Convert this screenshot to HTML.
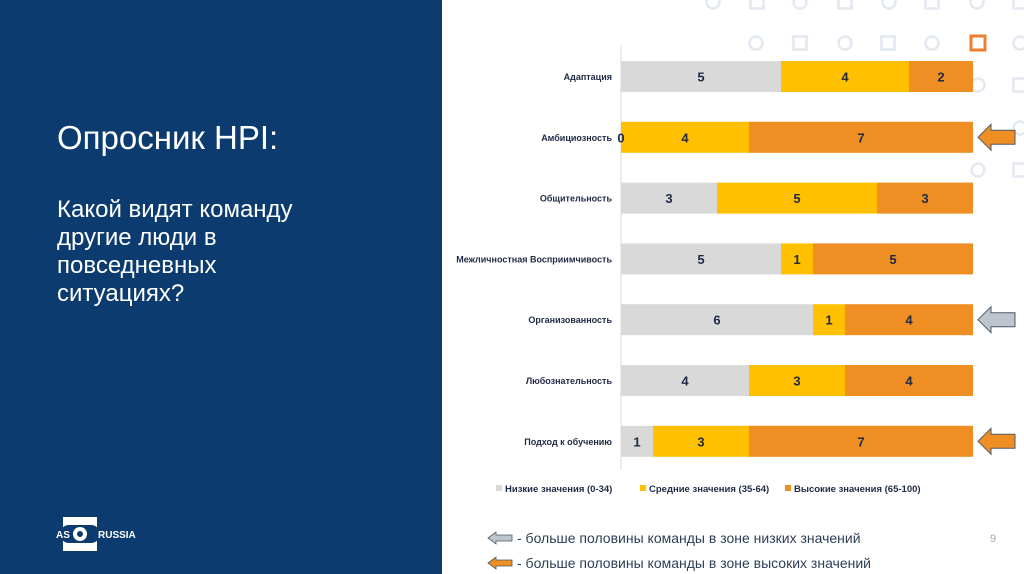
<!DOCTYPE html>
<html><head><meta charset="utf-8"><style>
html,body{margin:0;padding:0}
body{width:1024px;height:574px;position:relative;overflow:hidden;background:#fff;font-family:"Liberation Sans","DejaVu Sans",sans-serif}
#left{position:absolute;left:0;top:0;width:442px;height:574px;background:#0c3c6f}
h1{position:absolute;left:57px;top:118px;margin:0;color:#fff;font-size:33px;font-weight:normal;line-height:40px}
#sub{position:absolute;left:57px;top:196px;color:#fff;font-size:24px;line-height:28px;width:270px}
</style></head><body>
<div id="left">
<h1>Опросник HPI:</h1>
<div id="sub">Какой видят команду другие люди в повседневных ситуациях?</div>
<svg style="position:absolute;left:56px;top:516px" width="90" height="36">
<rect x="7" y="1" width="34" height="34" fill="#fff"/>
<rect x="4" y="9" width="40" height="18" rx="9" fill="#0c3c6f"/>
<circle cx="24" cy="18" r="7" fill="#fff"/><circle cx="24" cy="18" r="3" fill="#0c3c6f"/>
<text x="0" y="22" font-size="10" font-weight="bold" fill="#fff" font-family="Liberation Sans">AS</text>
<text x="42" y="22" font-size="10" font-weight="bold" fill="#fff" font-family="Liberation Sans">RUSSIA</text>
</svg>
</div>
<svg id="chart" width="1024" height="574" style="position:absolute;left:0;top:0"></svg>
<script>
const categories=["Адаптация","Амбициозность","Общительность","Межличностная Восприимчивость","Организованность","Любознательность","Подход к обучению"];
const low=[5,0,3,5,6,4,1];
const mid=[4,4,5,1,1,3,3];
const high=[2,7,3,5,4,4,7];
const arrows=[null,"high",null,null,"low",null,"high"];
const legendLabels=["Низкие значения (0-34)","Средние значения (35-64)","Высокие значения (65-100)"];
const colors=["#d9d9d9","#ffc000","#ef8e23"];
const NS="http://www.w3.org/2000/svg";
const svg=document.getElementById('chart');
const x0=621,unit=32,barH=31,y0=61,step=60.8;
const xs=v=>x0+v*unit;
const ys=i=>y0+i*step;
function mk(t,a,p){const e=document.createElementNS(NS,t);for(const k in a)e.setAttribute(k,a[k]);(p||svg).appendChild(e);return e;}
const deco=[[713,2,'c'],[757,2,'s'],[800,2,'c'],[845,2,'s'],[889,2,'c'],[932,2,'s'],[977,2,'c'],[1020,2,'s'],
[756,43,'c'],[800,43,'s'],[845,43,'c'],[888,43,'s'],[932,43,'c'],[1020,43,'c'],[978,85,'c'],[1020,85,'s'],[1020,128,'c'],[978,170,'c'],[1020,170,'s']];
deco.forEach(d=>{let e;
if(d[2]=='c')e=mk('circle',{cx:d[0],cy:d[1],r:6.5,fill:'none',stroke:'#e3e9f1','stroke-width':2.5});
else e=mk('rect',{x:d[0]-6.5,y:d[1]-6.5,width:13,height:13,fill:'none',stroke:'#e3e9f1','stroke-width':2.5});
});
const os=mk('rect',{x:971,y:36,width:14,height:14,fill:'none',stroke:'#ed7d31','stroke-width':3});

const ax=mk('line',{x1:x0,y1:45,x2:x0,y2:470,stroke:'#d9d9d9','stroke-width':1});

const labels=[];
categories.forEach((c,i)=>{
 const y=ys(i);
 const lab=mk('text',{x:612,y:y+barH/2+3.5,'text-anchor':'end','font-size':9,'font-weight':'bold',fill:'#1f2a44'});
 lab.textContent=c;
 let acc=0;
 [low[i],mid[i],high[i]].forEach((v,k)=>{
  const r=mk('rect',{x:xs(acc),y:y,width:v*unit,height:barH,fill:colors[k]});
  
  labels.push([xs(acc+v/2),y+barH/2+5,v]);
  acc+=v;});
 if(arrows[i]){const cy=y+barH/2;const fill=arrows[i]=='high'?'#ef8e23':'#bfc5cc';
  const p=mk('path',{d:`M978 ${cy} L991 ${cy-13} L991 ${cy-7} L1015 ${cy-7} L1015 ${cy+7} L991 ${cy+7} L991 ${cy+13} Z`,fill:fill,stroke:'#4a5a6a','stroke-width':1});
  }
});
labels.forEach(l=>{
 const t=mk('text',{x:l[0],y:l[1],'text-anchor':'middle','font-size':13,'font-weight':'bold',fill:'#1f2a44'});
 t.textContent=l[2];});
const lx=[496,640,785];
legendLabels.forEach((l,k)=>{
 const r=mk('rect',{x:lx[k],y:485,width:6,height:6,fill:colors[k]});
 
 const t=mk('text',{x:lx[k]+9,y:492,'font-size':9.5,'font-weight':'bold',fill:'#1f2a44'});
 t.textContent=l;});
[["#bfc5cc",538,"- больше половины команды в зоне низких значений"],["#ef8e23",563,"- больше половины команды в зоне высоких значений"]].forEach(a=>{
 const cy=a[1];
 const p=mk('path',{d:`M488 ${cy} L496 ${cy-6} L496 ${cy-3} L512 ${cy-3} L512 ${cy+3} L496 ${cy+3} L496 ${cy+6} Z`,fill:a[0],stroke:'#4a5a6a','stroke-width':0.8});
 
 const t=mk('text',{x:517,y:cy+5,'font-size':14,fill:'#2d3e55'});
 t.textContent=a[2];});
const pn=mk('text',{x:990,y:542,'font-size':11,fill:'#a6a6a6'});pn.textContent='9';

</script>
</body></html>
